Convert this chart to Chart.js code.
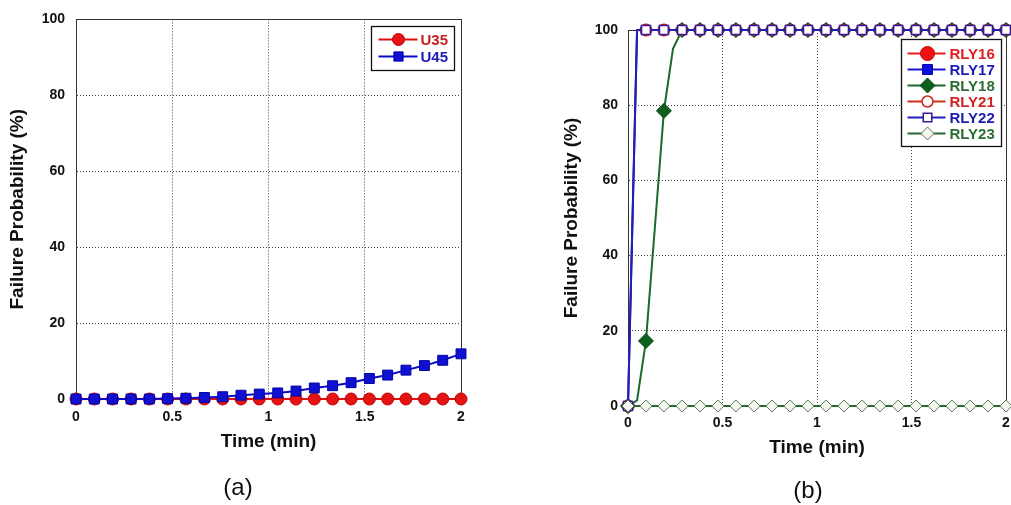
<!DOCTYPE html>
<html>
<head>
<meta charset="utf-8">
<script src="https://cdn.jsdelivr.net/npm/chart.js@4.4.0/dist/chart.umd.min.js"></script>
<style>
  body { margin: 0; background: #fff; width: 1011px; height: 505px; position: relative; overflow: hidden; font-family: 'Liberation Sans', Arial, sans-serif; }
  canvas { position: absolute; top: 0; }
  #graficoA { left: 0; }
  #graficoB { left: 540px; }
  .rotulo { position: absolute; font-size: 24px; color: #111; transform: translate(-50%, -50%); }
</style>
</head>
<body>
<canvas id="graficoA" width="480" height="505"></canvas>
<canvas id="graficoB" width="480" height="505"></canvas>
<div class="rotulo" style="left:238px; top:487px">(a)</div>
<div class="rotulo" style="left:808px; top:490px">(b)</div>
<script>
// tempos das marcas (min)
const tempo = [0, 0.095, 0.19, 0.286, 0.381, 0.476, 0.571, 0.667, 0.762, 0.857, 0.952,
               1.048, 1.143, 1.238, 1.333, 1.429, 1.524, 1.619, 1.714, 1.81, 1.905, 2];

// GRÁFICO (a)
const u35 = [0, 0, 0, 0, 0, 0, 0, 0, 0, 0, 0, 0, 0, 0, 0, 0, 0, 0, 0, 0, 0, 0];
const u45 = [0, 0, 0, 0, 0, 0.1, 0.2, 0.4, 0.6, 1.0, 1.3, 1.6, 2.1, 2.9, 3.5, 4.3, 5.4, 6.3, 7.6, 8.8, 10.2, 11.9];

// GRÁFICO (b) - valores nas marcas
const rly16 = [0, 100, 100, 100, 100, 100, 100, 100, 100, 100, 100, 100, 100, 100, 100, 100, 100, 100, 100, 100, 100, 100];
const rly17 = [0, 100, 100, 100, 100, 100, 100, 100, 100, 100, 100, 100, 100, 100, 100, 100, 100, 100, 100, 100, 100, 100];
const rly18 = [0, 17.3, 78.5, 100, 100, 100, 100, 100, 100, 100, 100, 100, 100, 100, 100, 100, 100, 100, 100, 100, 100, 100];
const rly21 = [0, 100, 100, 100, 100, 100, 100, 100, 100, 100, 100, 100, 100, 100, 100, 100, 100, 100, 100, 100, 100, 100];
const rly22 = [0, 100, 100, 100, 100, 100, 100, 100, 100, 100, 100, 100, 100, 100, 100, 100, 100, 100, 100, 100, 100, 100];
const rly23 = [0, 0, 0, 0, 0, 0, 0, 0, 0, 0, 0, 0, 0, 0, 0, 0, 0, 0, 0, 0, 0, 0];

// pontos da subida entre as marcas (sem marcador)
const subidaT = [0.048];
const subidaV = [100];
const subida18T = [0.048, 0.143, 0.238];
const subida18V = [1.5, 48, 95];

const yTicks = [0, 20, 40, 60, 80, 100];
const xTicks = [0, 0.5, 1, 1.5, 2];

const fonte = "'Liberation Sans', Arial, sans-serif";

function serie(valores, extraT, extraV) {
    const pts = tempo.map((t, i) => ({ x: t, y: valores[i], m: true }));
    (extraT || []).forEach((t, i) => pts.push({ x: t, y: extraV[i], m: false }));
    pts.sort((p, q) => p.x - q.x);
    return pts;
}

// borda em volta da área do gráfico
const moldura = {
    id: 'moldura',
    beforeDatasetsDraw(chart) {
        const { ctx, chartArea: a } = chart;
        ctx.save();
        ctx.strokeStyle = '#333';
        ctx.lineWidth = 1;
        ctx.strokeRect(Math.round(a.left) + 0.5, Math.round(a.top) + 0.5,
                       Math.round(a.right - a.left), Math.round(a.bottom - a.top));
        ctx.restore();
    }
};

// legenda com caixa dentro da área do gráfico
const legendaCaixa = {
    id: 'legendaCaixa',
    afterDraw(chart, args, o) {
        const { ctx, chartArea: a } = chart;
        const x = Math.round(a.right - o.direita - o.largura) + 0.5;
        const y = Math.round(a.top + o.topo) + 0.5;
        ctx.save();
        ctx.fillStyle = '#fff';
        ctx.fillRect(x, y, o.largura, o.altura);
        ctx.strokeStyle = '#111';
        ctx.lineWidth = 1.3;
        ctx.strokeRect(x, y, o.largura, o.altura);
        chart.data.datasets.forEach((ds, i) => {
            const cy = y + o.primeira + i * o.passo;
            ctx.strokeStyle = ds.borderColor;
            ctx.lineWidth = 1.8;
            ctx.beginPath();
            ctx.moveTo(x + o.linhaIni, cy);
            ctx.lineTo(x + o.linhaFim, cy);
            ctx.stroke();
            ctx.fillStyle = ds.pointBackgroundColor;
            ctx.strokeStyle = ds.pointBorderColor;
            ctx.lineWidth = ds.pointBorderWidth;
            Chart.helpers.drawPoint(ctx, {
                pointStyle: ds.pointStyle, radius: ds.raioLegenda,
                borderWidth: ds.pointBorderWidth, rotation: 0
            }, x + o.marca, cy);
            ctx.fillStyle = ds.corTexto;
            ctx.font = 'bold 15px ' + fonte;
            ctx.textBaseline = 'middle';
            ctx.textAlign = 'left';
            ctx.fillText(ds.label, x + o.texto, cy + 1);
        });
        ctx.restore();
    }
};

function eixos(c) {
    return {
        x: {
            type: 'linear', min: 0, max: 2,
            afterBuildTicks: s => { s.ticks = xTicks.map(v => ({ value: v })); },
            ticks: {
                padding: c.padX, color: '#111', callback: v => String(v),
                font: { family: fonte, size: 14, weight: 'bold' }
            },
            grid: { color: '#444', drawTicks: false, lineWidth: 1 },
            border: { color: '#333', dash: [1, 2] },
            title: {
                display: true, text: 'Time (min)', color: '#111',
                font: { family: fonte, size: 19, weight: 'bold' },
                padding: { top: 0, bottom: c.tituloX }
            },
            afterFit: s => { s.height = c.alturaX; }
        },
        y: {
            min: 0, max: 100,
            afterBuildTicks: s => { s.ticks = yTicks.map(v => ({ value: v })); },
            ticks: {
                padding: c.padY, color: '#111', callback: v => String(v),
                font: { family: fonte, size: 14, weight: 'bold' }
            },
            grid: { color: '#444', drawTicks: false, lineWidth: 1 },
            border: { color: '#333', dash: [1, 2] },
            title: {
                display: true, text: 'Failure Probability (%)', color: '#111',
                font: { family: fonte, size: 19, weight: 'bold' },
                padding: { top: c.tituloY, bottom: 0 }
            },
            afterFit: s => { s.width = c.larguraY; }
        }
    };
}

const raioMarca = r => (ctx => (ctx.raw && ctx.raw.m ? r : 0));

// GRÁFICO (a)
new Chart(document.getElementById('graficoA').getContext('2d'), {
    type: 'line',
    data: {
        datasets: [
            {
                label: 'U35', data: serie(u35), order: 2,
                borderColor: '#e01010', borderWidth: 2,
                pointStyle: 'circle', pointRadius: 6, raioLegenda: 6,
                pointBackgroundColor: '#e41414', pointBorderColor: '#c00000', pointBorderWidth: 1,
                corTexto: '#c81e1e', clip: false, tension: 0
            },
            {
                label: 'U45', data: serie(u45), order: 1,
                borderColor: '#0a0ac8', borderWidth: 2,
                pointStyle: 'rect', pointRadius: 7, raioLegenda: 6.5,
                pointBackgroundColor: '#1010d0', pointBorderColor: '#0000a8', pointBorderWidth: 1,
                corTexto: '#1c1cb4', clip: false, tension: 0
            }
        ]
    },
    options: {
        responsive: false,
        animation: false,
        layout: { padding: { left: 0, right: 19, top: 15, bottom: 40 } },
        scales: eixos({ padX: 10, padY: 11, tituloX: 11.6, tituloY: 6.6, alturaX: 66, larguraY: 76 }),
        plugins: {
            legend: { display: false },
            tooltip: { enabled: false },
            legendaCaixa: { direita: 7, largura: 83, topo: 7, altura: 44, primeira: 13, passo: 17,
                            linhaIni: 7, linhaFim: 46, marca: 27, texto: 49 }
        }
    },
    plugins: [moldura, legendaCaixa]
});

// GRÁFICO (b)
new Chart(document.getElementById('graficoB').getContext('2d'), {
    type: 'line',
    data: {
        datasets: [
            {
                label: 'RLY16', data: serie(rly16, subidaT, subidaV), order: 6,
                borderColor: '#e81c1c', borderWidth: 1.2,
                pointStyle: 'circle', pointRadius: raioMarca(6), raioLegenda: 7,
                pointBackgroundColor: '#ee1111', pointBorderColor: '#cc0000', pointBorderWidth: 1,
                corTexto: '#e02020', clip: false, tension: 0
            },
            {
                label: 'RLY17', data: serie(rly17, subidaT, subidaV), order: 5,
                borderColor: '#1414d0', borderWidth: 2,
                pointStyle: 'rect', pointRadius: raioMarca(6.5), raioLegenda: 7,
                pointBackgroundColor: '#1010dd', pointBorderColor: '#0000aa', pointBorderWidth: 1,
                corTexto: '#1c1cb8', clip: false, tension: 0
            },
            {
                label: 'RLY18', data: serie(rly18, subida18T, subida18V), order: 4,
                borderColor: '#1a6a2a', borderWidth: 2,
                pointStyle: 'rectRot', pointRadius: raioMarca(7.5), raioLegenda: 7.5,
                pointBackgroundColor: '#0e5e1e', pointBorderColor: '#0a4a16', pointBorderWidth: 1,
                corTexto: '#2a6e32', clip: false, tension: 0
            },
            {
                label: 'RLY21', data: serie(rly21, subidaT, subidaV), order: 3,
                borderColor: '#cc3318', borderWidth: 1.2,
                pointStyle: 'circle', pointRadius: raioMarca(5), raioLegenda: 5.5,
                pointBackgroundColor: '#ffffff', pointBorderColor: '#c8281c', pointBorderWidth: 1.5,
                corTexto: '#d02424', clip: false, tension: 0
            },
            {
                label: 'RLY22', data: serie(rly22, subidaT, subidaV), order: 2,
                borderColor: '#2020b8', borderWidth: 2,
                pointStyle: 'rect', pointRadius: raioMarca(6.3), raioLegenda: 6,
                pointBackgroundColor: '#ffffff', pointBorderColor: '#3a1a9a', pointBorderWidth: 1.6,
                corTexto: '#1c1cb0', clip: false, tension: 0
            },
            {
                label: 'RLY23', data: serie(rly23), order: 1,
                borderColor: '#2a6630', borderWidth: 2,
                pointStyle: 'rectRot', pointRadius: raioMarca(6), raioLegenda: 6.5,
                pointBackgroundColor: '#f2f6ee', pointBorderColor: '#5a7a5a', pointBorderWidth: 1,
                corTexto: '#2a6e32', clip: false, tension: 0
            }
        ]
    },
    options: {
        responsive: false,
        animation: false,
        layout: { padding: { left: 0, right: 14, top: 30, bottom: 40 } },
        scales: eixos({ padX: 9, padY: 10, tituloX: 5.6, tituloY: 20.6, alturaX: 59, larguraY: 88 }),
        plugins: {
            legend: { display: false },
            tooltip: { enabled: false },
            legendaCaixa: { direita: 5, largura: 100, topo: 9, altura: 107, primeira: 14, passo: 16,
                            linhaIni: 6, linhaFim: 44, marca: 26, texto: 48 }
        }
    },
    plugins: [moldura, legendaCaixa]
});
</script>
</body>
</html>
